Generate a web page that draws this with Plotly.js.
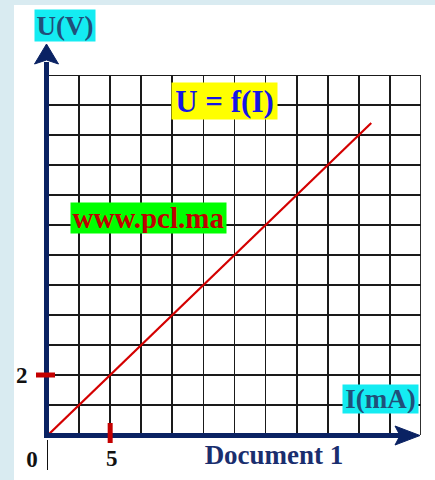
<!DOCTYPE html>
<html>
<head>
<meta charset="utf-8">
<script src="https://cdn.plot.ly/plotly-3.0.1.min.js"></script>
<style>
  html, body { margin: 0; padding: 0; background: #d9ebf1; }
  #chart { width: 435px; height: 480px; }
  #chart text { font-family: 'Liberation Serif', 'Times New Roman', serif !important; }
</style>
</head>
<body>
<div id="chart"></div>
<script>
// U = f(I) characteristic: current in mA, voltage in V
const currentMA = [0, 26];
const voltageV = [0, 10.4];

// graduated values shown on each axis
const xTickValues = [5];
const xTickLabels = ['5'];
const yTickValues = [2];
const yTickLabels = ['2'];

// grid extent and step
const xRange = [0, 30];
const xStep = 2.5;
const yRange = [0, 12];
const yStep = 1;

const navy = '#0a2263';
const tickRed = '#c40000';
const gridColor = '#1a1a1a';
const serif = 'Times New Roman';

// pixel helpers for the plot frame (paper coords)
const L = 48, T = 75, W = 373, H = 360;
const px = v => (v - L) / W;
const py = v => (T + H - v) / H;

const trace = {
  x: currentMA,
  y: voltageV,
  type: 'scatter',
  mode: 'lines',
  line: { color: '#d40000', width: 2.2 },
  hoverinfo: 'skip',
  showlegend: false
};

const shapes = [
  // white sheet behind the figure
  { type: 'rect', xref: 'paper', yref: 'paper', layer: 'below',
    x0: px(14), x1: px(440), y0: py(485), y1: py(5),
    fillcolor: '#ffffff', line: { width: 0 } },
  // closing lines of the grid (top and right edges)
  { type: 'line', xref: 'x', yref: 'y',
    x0: xRange[0], x1: xRange[1], y0: yRange[1], y1: yRange[1],
    line: { color: gridColor, width: 1.8 } },
  { type: 'line', xref: 'x', yref: 'y',
    x0: xRange[1], x1: xRange[1], y0: yRange[0], y1: yRange[1],
    line: { color: gridColor, width: 1.8 } },
  // vertical axis shaft and arrowhead
  { type: 'line', xref: 'paper', yref: 'paper',
    x0: px(46.5), x1: px(46.5), y0: py(437.5), y1: py(62),
    line: { color: navy, width: 5 } },
  { type: 'path', xref: 'paper', yref: 'paper',
    path: `M ${px(46.5)} ${py(44)} L ${px(34.5)} ${py(64)} L ${px(46.5)} ${py(60)} L ${px(58.5)} ${py(64)} Z`,
    fillcolor: navy, line: { color: navy, width: 1 } },
  // horizontal axis shaft and arrowhead
  { type: 'line', xref: 'paper', yref: 'paper',
    x0: px(44), x1: px(400), y0: py(435.5), y1: py(435.5),
    line: { color: navy, width: 5 } },
  { type: 'path', xref: 'paper', yref: 'paper',
    path: `M ${px(420)} ${py(435.5)} L ${px(395)} ${py(426)} L ${px(400)} ${py(435.5)} L ${px(395)} ${py(445)} Z`,
    fillcolor: navy, line: { color: navy, width: 1 } },
  // thin stroke under the origin
  { type: 'line', xref: 'paper', yref: 'paper',
    x0: px(47.5), x1: px(47.5), y0: py(440), y1: py(470),
    line: { color: '#111111', width: 1 } }
];

// red graduation marks
yTickValues.forEach(v => shapes.push({
  type: 'line', xref: 'paper', yref: 'y',
  x0: px(36), x1: px(55), y0: v, y1: v,
  line: { color: tickRed, width: 5 }
}));
xTickValues.forEach(v => shapes.push({
  type: 'line', xref: 'x', yref: 'paper',
  x0: v, x1: v, y0: py(423), y1: py(443),
  line: { color: tickRed, width: 5 }
}));

function boxLabel(text, cx, cy, w, h, size, color, bg) {
  return {
    xref: 'paper', yref: 'paper', x: px(cx), y: py(cy),
    xanchor: 'center', yanchor: 'middle',
    text: '<b>' + text + '</b>', showarrow: false,
    width: w, height: h, borderpad: 0,
    bgcolor: bg,
    font: { family: serif, size: size, color: color }
  };
}

const annotations = [
  boxLabel('U(V)', 65, 25.5, 60, 31, 27, '#20507a', '#14ecf2'),
  boxLabel('U = f(I)', 224.5, 101, 105, 36, 31, '#1515e6', '#ffff00'),
  boxLabel('www.pcl.ma', 148.5, 218, 155, 30, 29, '#c00000', '#00ff00'),
  boxLabel('I(mA)', 380.5, 399, 75, 28, 27, '#20507a', '#14ecf2'),
  boxLabel('Document 1', 274, 455, 150, 28, 27, '#1a2e6e', 'rgba(0,0,0,0)'),
  boxLabel('0', 32, 459, 16, 24, 23, '#111111', 'rgba(0,0,0,0)')
];

xTickValues.forEach((v, i) => annotations.push({
  xref: 'x', yref: 'paper', x: v, y: py(458), xshift: 2,
  xanchor: 'center', yanchor: 'middle', showarrow: false,
  text: '<b>' + xTickLabels[i] + '</b>',
  font: { family: serif, size: 23, color: '#111111' }
}));
yTickValues.forEach((v, i) => annotations.push({
  xref: 'paper', yref: 'y', x: px(22), y: v,
  xanchor: 'center', yanchor: 'middle', showarrow: false,
  text: '<b>' + yTickLabels[i] + '</b>',
  font: { family: serif, size: 23, color: '#111111' }
}));

const gridAxis = (range, step) => ({
  range: range, tick0: 0, dtick: step,
  showgrid: true, gridcolor: gridColor, gridwidth: 1.8,
  zeroline: false, showline: false, showticklabels: false,
  ticks: '', fixedrange: true
});

const layout = {
  width: 435, height: 480,
  margin: { l: L, r: 435 - L - W, t: T, b: 480 - T - H, pad: 0 },
  paper_bgcolor: '#d9ebf1',
  plot_bgcolor: 'rgba(0,0,0,0)',
  font: { family: serif },
  xaxis: gridAxis(xRange, xStep),
  yaxis: gridAxis(yRange, yStep),
  shapes: shapes,
  annotations: annotations,
  showlegend: false
};

Plotly.newPlot('chart', [trace], layout, { staticPlot: true, displayModeBar: false });
</script>
</body>
</html>
